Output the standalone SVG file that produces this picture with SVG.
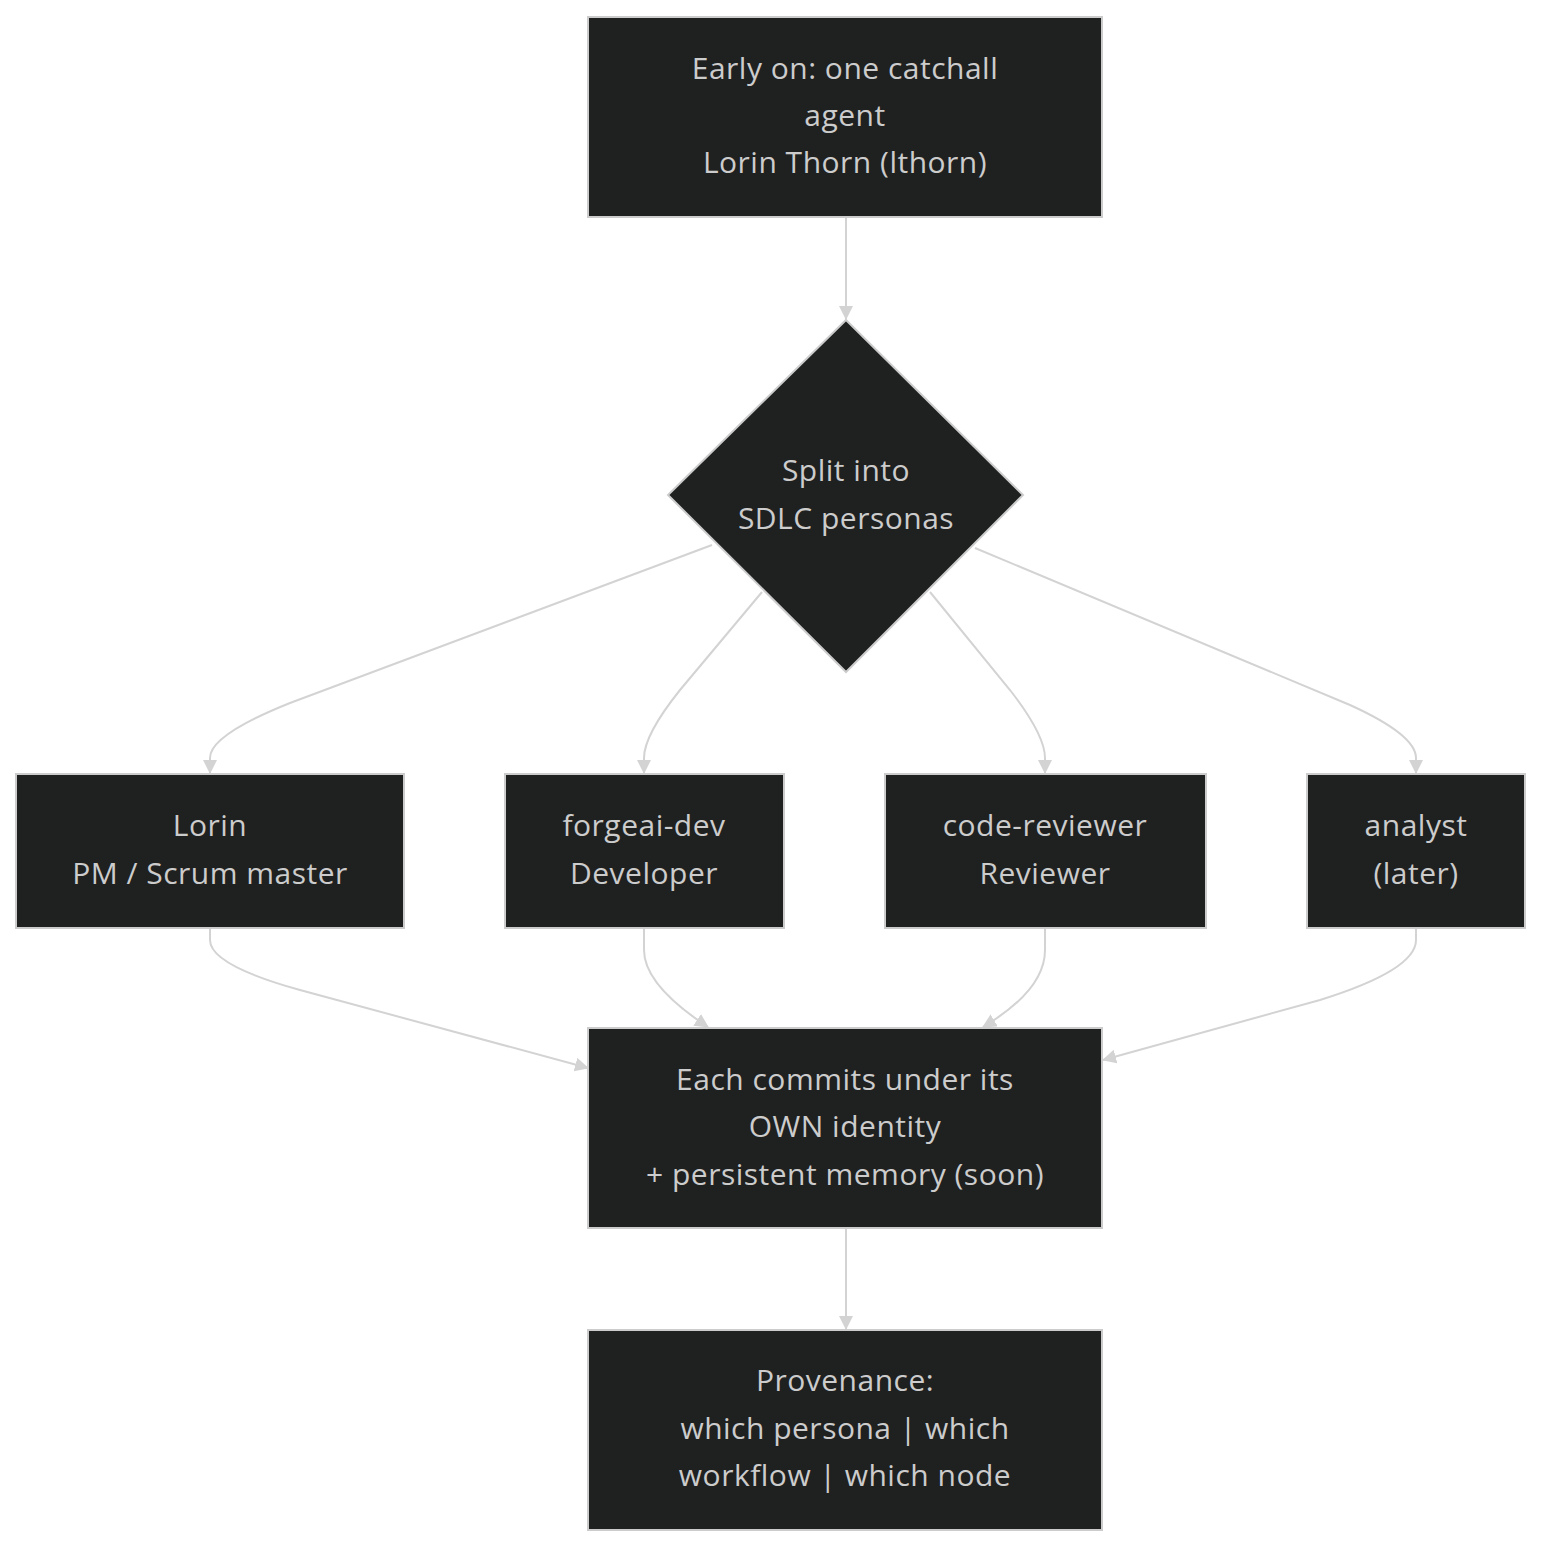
<svg xmlns="http://www.w3.org/2000/svg" width="1558" height="1562" viewBox="0 0 1558 1562">
<style>
.node rect,.node polygon{fill:#1f2020;stroke:#cccccc;stroke-width:2}
.node text{fill:#cccccc;font-family:"Open Sans","DejaVu Sans",sans-serif;font-size:30px;letter-spacing:0.5px;text-anchor:middle}
.edges path{fill:none;stroke:#d3d3d3;stroke-width:2}
</style>
<defs>
<marker id="arr" viewBox="0 0 14 14" refX="13" refY="7" markerWidth="14" markerHeight="14" markerUnits="userSpaceOnUse" orient="auto">
<path d="M0,0 L14,7 L0,14 z" fill="#d3d3d3"/>
</marker>
</defs>
<rect width="1558" height="1562" fill="#ffffff"/>
<g class="edges">
<path d="M846,217 L846,319" marker-end="url(#arr)"/>
<path d="M712,545 L290,703 Q210,735 210,758 L210,773" marker-end="url(#arr)"/>
<path d="M762,592 L680,690 Q644,735 644,758 L644,773" marker-end="url(#arr)"/>
<path d="M930,592 L1010,690 Q1045,735 1045,758 L1045,773" marker-end="url(#arr)"/>
<path d="M975,548 L1350,705 Q1416,735 1416,758 L1416,773" marker-end="url(#arr)"/>
<path d="M210,928 L210,940 Q210,965 300,990 L588,1068" marker-end="url(#arr)"/>
<path d="M644,928 L644,950 Q644,985 708,1027" marker-end="url(#arr)"/>
<path d="M1045,928 L1045,950 Q1045,990 983,1027" marker-end="url(#arr)"/>
<path d="M1416,928 L1416,940 Q1416,970 1320,1000 L1103,1060" marker-end="url(#arr)"/>
<path d="M846,1228 L846,1329" marker-end="url(#arr)"/>
</g>
<g id="A" class="node">
<rect x="588" y="17" width="514" height="200"/>
<text x="845" y="79">Early on: one catchall</text>
<text x="845" y="126">agent</text>
<text x="845" y="173">Lorin Thorn (lthorn)</text>
</g>
<g id="B" class="node">
<polygon points="846,320 1023,495 846,672 668,495"/>
<text x="846" y="481">Split into</text>
<text x="846" y="529">SDLC personas</text>
</g>
<g id="C" class="node">
<rect x="16" y="774" width="388" height="154"/>
<text x="210" y="836">Lorin</text>
<text x="210" y="884">PM / Scrum master</text>
</g>
<g id="D" class="node">
<rect x="505" y="774" width="279" height="154"/>
<text x="644" y="836">forgeai-dev</text>
<text x="644" y="884">Developer</text>
</g>
<g id="E" class="node">
<rect x="885" y="774" width="321" height="154"/>
<text x="1045" y="836">code-reviewer</text>
<text x="1045" y="884">Reviewer</text>
</g>
<g id="F" class="node">
<rect x="1307" y="774" width="218" height="154"/>
<text x="1416" y="836">analyst</text>
<text x="1416" y="884">(later)</text>
</g>
<g id="G" class="node">
<rect x="588" y="1028" width="514" height="200"/>
<text x="845" y="1090">Each commits under its</text>
<text x="845" y="1137">OWN identity</text>
<text x="845" y="1185">+ persistent memory (soon)</text>
</g>
<g id="H" class="node">
<rect x="588" y="1330" width="514" height="200"/>
<text x="845" y="1391">Provenance:</text>
<text x="845" y="1439">which persona | which</text>
<text x="845" y="1486">workflow | which node</text>
</g>
</svg>
